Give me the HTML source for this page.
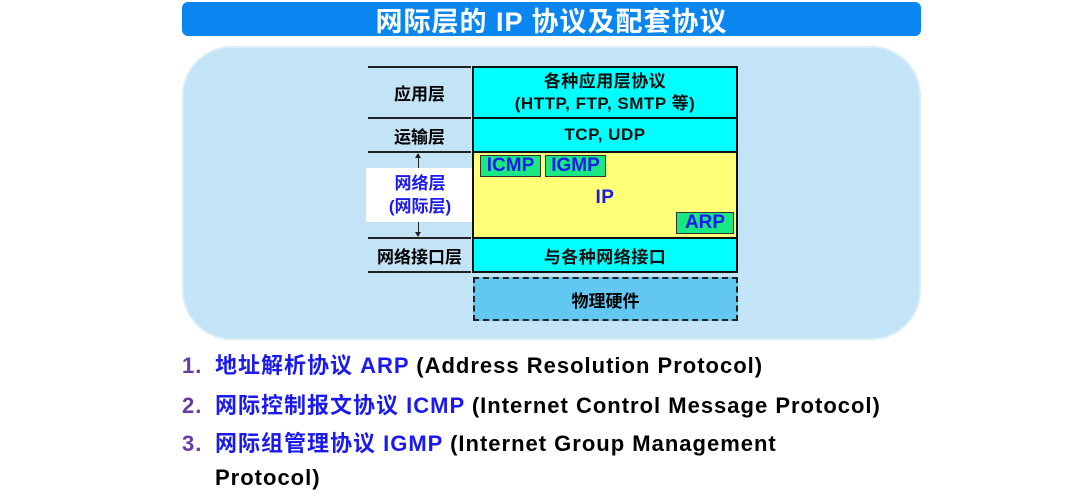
<!DOCTYPE html>
<html><head><meta charset="utf-8"><style>
*{margin:0;padding:0;box-sizing:border-box}
body{width:1092px;height:502px;background:#fff;position:relative;overflow:hidden;font-family:"Liberation Sans","Noto Sans CJK SC",sans-serif;font-weight:bold}
.a{position:absolute}
.c{display:flex;align-items:center;justify-content:center;text-align:center}
.hl{position:absolute;left:368px;width:103px;height:2px;background:#222}
.box{border:2px solid #111;background:#00ffff;font-size:17px;color:#111;letter-spacing:0.5px}
.g{background:#19e882;border:1px solid #333;color:#1a1aee;font-size:19px}
.li{position:absolute;left:182px;font-size:22px;color:#000;white-space:nowrap;letter-spacing:1px}
.n{color:#6a3aa0;display:inline-block;width:33px}
.b{color:#1a1aee}
.lab{font-size:17px}
</style></head><body>
<div class="a c" style="left:182px;top:2px;width:739px;height:34px;background:#0a86f0;border-radius:6px;color:#fff;font-size:27px;letter-spacing:1px">网际层的 IP 协议及配套协议</div>
<div class="a" style="left:182px;top:46px;width:739px;height:294px;background:#c3e3f6;border-radius:50px;border:2px solid #d6ecf9"></div>
<div class="hl" style="top:66px"></div><div class="hl" style="top:117px"></div><div class="hl" style="top:151px"></div><div class="hl" style="top:237px"></div><div class="hl" style="top:271px"></div>
<div class="a c lab" style="left:368px;top:68px;width:103px;height:49px">应用层</div>
<div class="a c lab" style="left:368px;top:119px;width:103px;height:32px">运输层</div>
<div class="a c lab" style="left:366px;top:168px;width:108px;height:54px;background:#fff;color:#1a1aee;line-height:23px">网络层<br>(网际层)</div>
<div class="a" style="left:418px;top:154px;width:1px;height:14px;background:#222"></div>
<div class="a" style="left:415px;top:153px;border:3px solid transparent;border-bottom:5px solid #222;border-top:0"></div>
<div class="a" style="left:418px;top:222px;width:1px;height:14px;background:#222"></div>
<div class="a" style="left:415px;top:232px;border:3px solid transparent;border-top:5px solid #222;border-bottom:0"></div>
<div class="a c lab" style="left:366px;top:239px;width:107px;height:32px">网络接口层</div>
<div class="a c box" style="left:472px;top:66px;width:266px;height:53px;line-height:22px">各种应用层协议<br>(HTTP, FTP, SMTP 等)</div>
<div class="a c box" style="left:472px;top:117px;width:266px;height:36px">TCP, UDP</div>
<div class="a c box" style="left:472px;top:151px;width:266px;height:88px;background:#ffff78;color:#1a1aee;font-size:19px;padding-top:6px">IP</div>
<div class="a c g" style="left:480px;top:155px;width:61px;height:22px">ICMP</div>
<div class="a c g" style="left:545px;top:155px;width:61px;height:22px">IGMP</div>
<div class="a c g" style="left:676px;top:212px;width:58px;height:22px">ARP</div>
<div class="a c box" style="left:472px;top:237px;width:266px;height:36px">与各种网络接口</div>
<div class="a c" style="left:473px;top:277px;width:265px;height:44px;background:#62c8f2;border:2px dashed #222;font-size:17px">物理硬件</div>
<div class="li" style="top:348px"><span class="n">1.</span><span class="b">地址解析协议 ARP</span> (Address Resolution Protocol)</div>
<div class="li" style="top:388px"><span class="n">2.</span><span class="b">网际控制报文协议 ICMP</span> (Internet Control Message Protocol)</div>
<div class="li" style="top:426px"><span class="n">3.</span><span class="b">网际组管理协议 IGMP</span> (Internet Group Management</div>
<div class="li" style="top:465px;left:215px">Protocol)</div>
</body></html>
